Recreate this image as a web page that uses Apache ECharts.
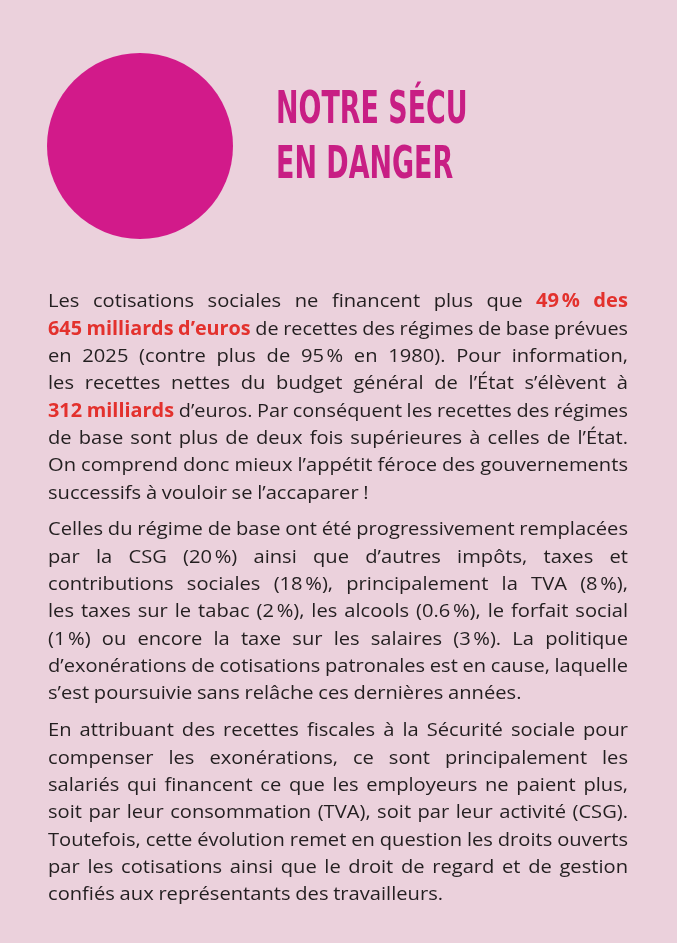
<!DOCTYPE html>
<html><head><meta charset="utf-8">
<script src="https://cdn.jsdelivr.net/npm/echarts@6/dist/echarts.min.js"></script>
<style>html,body{margin:0;padding:0;background:#ebd1dc}#c{width:677px;height:943px}</style>
</head><body><div id="c"></div>
<script>
const shareValue = 49;
const shareLabel = '49 %';
const titleLines = ['NOTRE SÉCU', 'EN DANGER'];
const para1 = [
 "Les cotisations sociales ne financent plus que **49\u202F% des**",
 "**645 milliards d’euros** de recettes des régimes de base prévues",
 "en 2025 (contre plus de 95\u202F% en 1980). Pour information,",
 "les recettes nettes du budget général de l’État s’élèvent à",
 "**312 milliards** d’euros. Par conséquent les recettes des régimes",
 "de base sont plus de deux fois supérieures à celles de l’État.",
 "On comprend donc mieux l’appétit féroce des gouvernements",
 "successifs à vouloir se l’accaparer !"];
const para2 = [
 "Celles du régime de base ont été progressivement remplacées",
 "par la CSG (20\u202F%) ainsi que d’autres impôts, taxes et",
 "contributions sociales (18\u202F%), principalement la TVA (8\u202F%),",
 "les taxes sur le tabac (2\u202F%), les alcools (0.6\u202F%), le forfait social",
 "(1\u202F%) ou encore la taxe sur les salaires (3\u202F%). La politique",
 "d’exonérations de cotisations patronales est en cause, laquelle",
 "s’est poursuivie sans relâche ces dernières années."];
const para3 = [
 "En attribuant des recettes fiscales à la Sécurité sociale pour",
 "compenser les exonérations, ce sont principalement les",
 "salariés qui financent ce que les employeurs ne paient plus,",
 "soit par leur consommation (TVA), soit par leur activité (CSG).",
 "Toutefois, cette évolution remet en question les droits ouverts",
 "par les cotisations ainsi que le droit de regard et de gestion",
 "confiés aux représentants des travailleurs."];

const FS = 19, FAM = "'Open Sans', sans-serif", SX0 = 1.06;
const LX = 48, RX = 628, LH = 27.3;
const ctx = document.createElement('canvas').getContext('2d');
function fnt(b){return (b?'bold ':'')+FS+'px '+FAM;}
function meas(t,b){ctx.font=fnt(b);return ctx.measureText(t).width*SX0;}
const graphics = [];
function words(line){
  const out=[]; let bold=false;
  line.split('**').forEach((seg,i)=>{bold=i%2===1; seg.split(' ').forEach(w=>{if(w)out.push({t:w,b:bold});});});
  return out;
}
function addPara(lines,y0){
  lines.forEach((ln,i)=>{
    const ws=words(ln); const y=y0+i*LH;
    const sw=meas(' ',false)*0.9;
    const tot=ws.reduce((s,w)=>s+meas(w.t,w.b),0);
    const W=RX-LX; const last=i===lines.length-1;
    let gap=sw, sc=1;
    const nat=tot+sw*(ws.length-1);
    if(nat>W){sc=W/nat;}
    else if(!last){gap=(W-tot)/(ws.length-1);}
    let x=LX;
    ws.forEach(w=>{
      graphics.push({type:'text',x:x,y:y,scaleX:sc*SX0,style:{text:w.t,font:fnt(w.b),fill:w.b?'#e3312d':'#231f20',verticalAlign:'middle'}});
      x+=(meas(w.t,w.b)+gap)*sc;
    });
  });
}
addPara(para1,302);
addPara(para2,530);
addPara(para3,731);
titleLines.forEach((t,i)=>{
  graphics.push({type:'text',x:276,y:112+i*55,scaleX:0.68,style:{text:t,font:"bold 44px 'DejaVu Sans Condensed', 'DejaVu Sans', sans-serif",fill:'#c81e84',verticalAlign:'middle'}});
});
graphics.push({type:'text',x:152,y:143,scaleX:0.66,style:{text:shareLabel,font:"bold 84px 'DejaVu Sans Condensed', sans-serif",fill:'#fff',align:'center',verticalAlign:'middle'}});
const chart=echarts.init(document.getElementById('c'));
chart.setOption({
  backgroundColor:'#ebd1dc',
  series:[{type:'pie',radius:[0,93],center:[140,146],silent:true,
    label:{show:false},labelLine:{show:false},
    itemStyle:{color:'#d21a8a'},
    data:[{value:shareValue,name:shareLabel}]}],
  graphic:graphics
});
</script></body></html>
